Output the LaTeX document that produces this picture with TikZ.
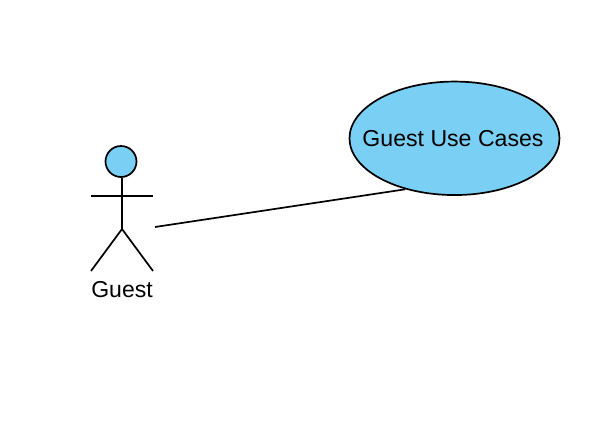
\documentclass[tikz,border=0pt]{standalone}
\usepackage{fontspec}
\setmainfont{Liberation Sans}
\usetikzlibrary{shapes.geometric}
\definecolor{fillblue}{RGB}{122,207,245}
\tikzset{px/.style={x=1pt,y=-1pt},
 usecase/.style={ellipse,draw=black,fill=fillblue,line width=1.7pt,minimum width=210pt,minimum height=113.5pt,inner sep=-40pt,font=\fontsize{23.1pt}{26pt}\selectfont},
 head/.style={circle,draw=black,fill=fillblue,line width=1.7pt,minimum size=31pt,inner sep=0pt},
 lbl/.style={inner sep=0pt,font=\fontsize{23pt}{26pt}\selectfont},
 lin/.style={line width=1.7pt,black}}
\begin{document}
\begin{tikzpicture}[px]
\useasboundingbox[fill=white] (0,0) rectangle (608,445);
\node[usecase] (uc) at (454.5,138.3) {\kern-3pt\raisebox{-0.8pt}{Guest Use Cases}};
\node[head] (hd) at (121,161.5) {};
\coordinate (hip) at (122,229);
\coordinate (al) at (91,196);
\coordinate (ar) at (153,196);
\coordinate (fl) at (91,271);
\coordinate (fr) at (153,271);
\coordinate (s) at (155,227);
\draw[lin] (hd.south -| hip) -- (hip);
\draw[lin] (al) -- (ar);
\draw[lin] (fl) -- (hip) -- (fr);
\draw[lin] (s) -- (uc.226);
\node[lbl] (g) at (122,289.5) {Guest};
\end{tikzpicture}
\end{document}
